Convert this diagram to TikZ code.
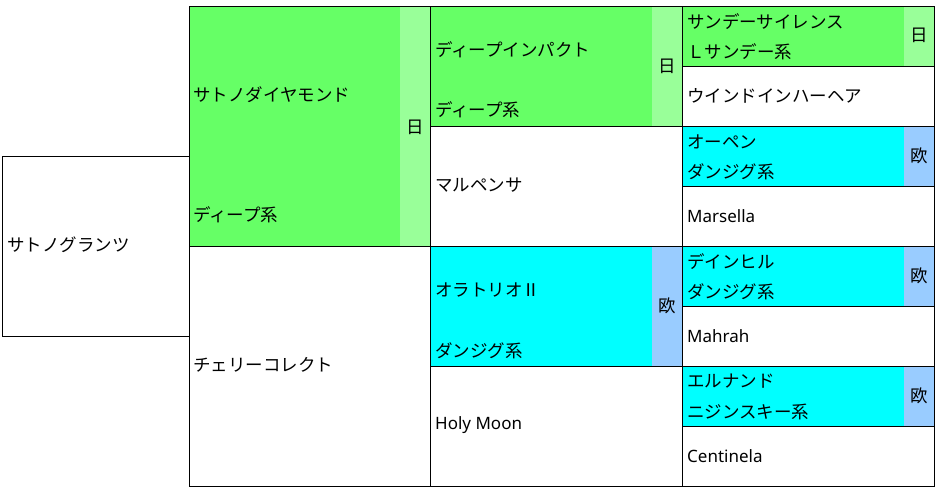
\documentclass[tikz,border=0pt]{standalone}
\usepackage{fontspec}
\setmainfont{Noto Sans CJK JP}
\newfontfamily\latinfont{Noto Sans}
\definecolor{gA}{HTML}{66FF66}
\definecolor{gB}{HTML}{99FF99}
\definecolor{cA}{HTML}{00FFFF}
\definecolor{cB}{HTML}{99CCFF}
\begin{document}
\begin{tikzpicture}[x=1pt,y=-1pt,
  cell/.style={draw=black,line width=1pt},
  lbl/.style={anchor=west,inner sep=0pt,font=\fontsize{17.5}{20}\selectfont},
  lat/.style={anchor=west,inner sep=0pt,font=\fontsize{17}{20}\selectfont\latinfont},
  tag/.style={inner sep=0pt,font=\fontsize{17.5}{20}\selectfont}]
\useasboundingbox (0,0) rectangle (939,490);
% fills
\fill[gA] (189,6.5) rectangle (400,246.5);
\fill[gB] (400,6.5) rectangle (430.5,246.5);
\fill[gA] (430.5,6.5) rectangle (652,126.5);
\fill[gB] (652,6.5) rectangle (682.5,126.5);
\fill[cA] (430.5,246.5) rectangle (652,366.5);
\fill[cB] (652,246.5) rectangle (682.5,366.5);
\fill[gA] (682.5,6.5) rectangle (904,66.5);
\fill[gB] (904,6.5) rectangle (934.5,66.5);
\fill[cA] (682.5,126.5) rectangle (904,186.5);
\fill[cB] (904,126.5) rectangle (934.5,186.5);
\fill[cA] (682.5,246.5) rectangle (904,306.5);
\fill[cB] (904,246.5) rectangle (934.5,306.5);
\fill[cA] (682.5,366.5) rectangle (904,426.5);
\fill[cB] (904,366.5) rectangle (934.5,426.5);
% borders
\draw[cell] (2.5,156) rectangle (189,336);
\draw[cell] (189,6.5) rectangle (430.5,246.5);
\draw[cell] (189,246.5) rectangle (430.5,486.5);
\foreach \r in {6.5,126.5,246.5,366.5}
  \draw[cell] (430.5,\r) rectangle (682.5,\r+120);
\foreach \r in {6.5,66.5,126.5,186.5,246.5,306.5,366.5,426.5}
  \draw[cell] (682.5,\r) rectangle (934.5,\r+60);
% column 0
\node[lbl] (n0) at (7,245) {サトノグランツ};
% column 1
\node[lbl] (n1a) at (193,95) {サトノダイヤモンド};
\node[lbl] (n1b) at (193,215) {ディープ系};
\node[tag] (n1t) at (415.25,127) {日};
\node[lbl] (n2) at (193,365) {チェリーコレクト};
% column 2
\node[lbl] (n3a) at (435,50) {ディープインパクト};
\node[lbl] (n3b) at (435,110) {ディープ系};
\node[tag] (n3t) at (667.25,66) {日};
\node[lbl] (n4) at (435,185) {マルペンサ};
\node[lbl] (n5a) at (435,290) {オラトリオⅡ};
\node[lbl] (n5b) at (435,351) {ダンジグ系};
\node[tag] (n5t) at (667.25,306) {欧};
\node[lat] (n6) at (435,425) {Holy Moon};
% column 3
\node[lbl] (m1a) at (687,21.5) {サンデーサイレンス};
\node[lbl] (m1b) at (687,51.5) {Ｌサンデー系};
\node[tag] (m1t) at (919.25,35) {日};
\node[lbl] (m2) at (687,96) {ウインドインハーヘア};
\node[lbl] (m3a) at (687,141.5) {オーペン};
\node[lbl] (m3b) at (687,171.5) {ダンジグ系};
\node[tag] (m3t) at (919.25,156) {欧};
\node[lat] (m4) at (687,216) {Marsella};
\node[lbl] (m5a) at (687,261.5) {デインヒル};
\node[lbl] (m5b) at (687,291.5) {ダンジグ系};
\node[tag] (m5t) at (919.25,276) {欧};
\node[lat] (m6) at (687,336) {Mahrah};
\node[lbl] (m7a) at (687,381.5) {エルナンド};
\node[lbl] (m7b) at (687,411.5) {ニジンスキー系};
\node[tag] (m7t) at (919.25,396) {欧};
\node[lat] (m8) at (687,456) {Centinela};
\end{tikzpicture}
\end{document}
